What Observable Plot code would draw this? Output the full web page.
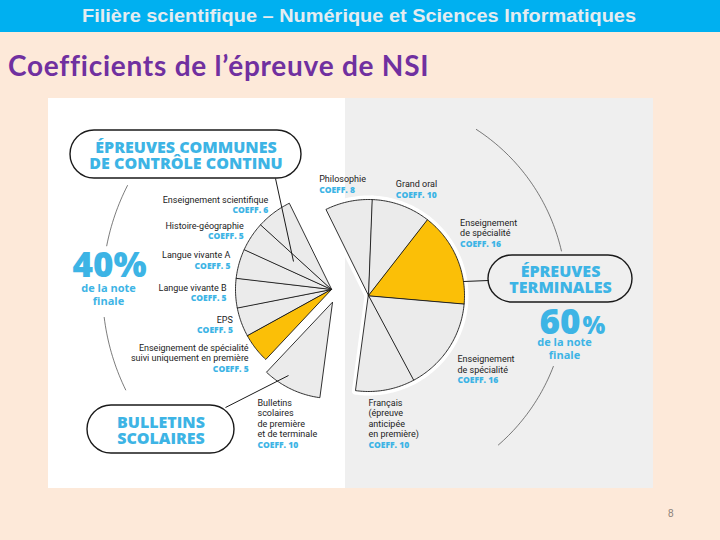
<!DOCTYPE html>
<html>
<head>
<meta charset="utf-8">
<script src="https://cdn.jsdelivr.net/npm/d3@7"></script>
<script src="https://cdn.jsdelivr.net/npm/@observablehq/plot@0.6"></script>
<style>
  html, body { margin: 0; padding: 0; }
  body { width: 720px; height: 540px; background: #FDE9D9; position: relative; overflow: hidden; }
  #header { position: absolute; left: 0; top: 0; width: 720px; height: 32px; background: #00B0F0; overflow: hidden; }
  #htext { position: absolute; left: 0; top: 0; line-height: 32px; white-space: nowrap; transform-origin: 0 0;
    font-family: "Liberation Sans", Arial, sans-serif; font-weight: bold; font-size: 18px; color: #E4ECF0; }
  #title { position: absolute; left: 8px; top: 48px; line-height: 34px; white-space: nowrap;
    font-family: Lato, "Open Sans", sans-serif; font-weight: bold; font-size: 28px; color: #7030A0; }
  #chart { position: absolute; left: 48px; top: 98px; }
  #page { position: absolute; left: 668px; top: 508px; font-family: "Liberation Sans", sans-serif; font-size: 10px; color: #8a8078; }
</style>
</head>
<body>
<div id="header"><span id="htext">Filière scientifique – Numérique et Sciences Informatiques</span></div>
<div id="title"><span id="ttext">Coefficients de l’épreuve de NSI</span></div>
<div id="chart"></div>
<div id="page">8</div>
<script>
// ---------- DATA (clockwise from the top) ----------
const categories = ["Philosophie", "Grand oral", "Enseignement de spécialité", "Enseignement de spécialité",
  "Français (épreuve anticipée en première)", "Bulletins scolaires de première et de terminale",
  "Enseignement de spécialité suivi uniquement en première", "EPS", "Langue vivante B", "Langue vivante A",
  "Histoire-géographie", "Enseignement scientifique"];
const coefficients = [8, 10, 16, 16, 10, 10, 5, 5, 5, 5, 5, 6];
const blocks = ["terminales", "terminales", "terminales", "terminales", "terminales", "bulletins",
  "controle", "controle", "controle", "controle", "controle", "controle"];
const nsiHighlight = [false, false, true, false, false, false, true, false, false, false, false, false];
const labelLines = [["Philosophie"], ["Grand oral"], ["Enseignement", "de spécialité"], ["Enseignement", "de spécialité"],
  ["Français", "(épreuve", "anticipée", "en première)"], ["Bulletins", "scolaires", "de première", "et de terminale"],
  ["Enseignement de spécialité", "suivi uniquement en première"], ["EPS"], ["Langue vivante B"], ["Langue vivante A"],
  ["Histoire-géographie"], ["Enseignement scientifique"]];
const blockTitles = [["ÉPREUVES COMMUNES", "DE CONTRÔLE CONTINU"], ["BULLETINS", "SCOLAIRES"], ["ÉPREUVES", "TERMINALES"]];
const shareLabels = ["40%", "60%"];
const shareSub = ["de la note", "finale"];

// ---------- LAYOUT ----------
const X0 = 48, Y0 = 98, W = 605, H = 390, SPLIT = 345;
const apex = { terminales: [368, 295], bulletins: [332, 302], controle: [331, 289] };
const radius = 96, startDeg = -26.3;
const labelNudge = [[-26, -3.5], [-11, -3], [-11, -25], [-4.5, 5.3], [-20, 0], [-27, 2]];
const pills = [{x1: 70, x2: 301, y1: 130, y2: 178}, {x1: 87, x2: 234, y1: 405, y2: 453}, {x1: 488, x2: 632, y1: 255, y2: 302}];
const connectors = [{x1: 275, y1: 178, x2: 293, y2: 261}, {x1: 225, y1: 407, x2: 288, y2: 375}, {x1: 488, y1: 280, x2: 463, y2: 281}];
const decorArcs = [{c: "controle", r: 229, a0: 244, a1: 263}, {c: "controle", r: 229, a0: 281, a1: 297},
  {c: "terminales", r: 198, a0: 33, a1: 77}, {c: "terminales", r: 198, a0: 111, a1: 139}];
const BLUE = "#3DB4E5", INK = "#1a1a1a";

const rad = d => d * Math.PI / 180;
const polar = (c, r, deg) => [c[0] + r * Math.sin(rad(deg)), c[1] - r * Math.cos(rad(deg))];

const total = d3.sum(coefficients);
let acc = startDeg;
const wedges = categories.map((name, i) => {
  const a0 = acc; acc += coefficients[i] * 360 / total;
  return {i, name, coef: coefficients[i], block: blocks[i], nsi: nsiHighlight[i], a0, a1: acc, mid: (a0 + acc) / 2};
});

function arcPts(id, c, r, a0, a1, withCenter) {
  const pts = withCenter ? [{id, x: c[0], y: c[1]}] : [];
  const n = Math.max(2, Math.ceil(Math.abs(a1 - a0)));
  for (let k = 0; k <= n; k++) {
    const p = polar(c, r, a0 + (a1 - a0) * k / n);
    pts.push({id, x: p[0], y: p[1]});
  }
  return pts;
}
const wedgePts = wedges.flatMap(w => arcPts(w.i, apex[w.block], radius, w.a0, w.a1, true).map(p => ({...p, nsi: w.nsi})));
const decorPts = decorArcs.flatMap((a, k) => arcPts(k, apex[a.c], a.r, a.a0, a.a1, false));

// labels: one multi-line text for the name, one for the coefficient
const LH = 10.5;
const nameRows = [], coefRows = [];
wedges.forEach(w => {
  let x, y, anchor;
  if (w.block === "controle") {
    const p = polar(apex[w.block], 105, w.mid);
    x = p[0]; y = p[1] - 3; anchor = "end";
  } else {
    const p = polar(apex[w.block], 112, w.mid);
    const nd = labelNudge[w.i];
    x = p[0] + nd[0]; y = p[1] + nd[1]; anchor = "start";
  }
  const n = labelLines[w.i].length;
  nameRows.push({x, y: y + (n - 1) * LH, text: labelLines[w.i].join("\n"), anchor});
  coefRows.push({x, y: y + n * LH, text: "COEFF. " + w.coef, anchor});
});

const pillRows = pills.map((p, k) => ({x: (p.x1 + p.x2) / 2, y: (p.y1 + p.y2) / 2 + 14, text: blockTitles[k].join("\n")}));

const textMark = (rows, opts) => Plot.text(rows, {x: "x", y: "y", text: "text", lineAnchor: "bottom", ...opts});
const nameStyle = {fill: "#222", fontSize: 9, fontFamily: "Roboto", lineHeight: LH / 9};
const coefStyle = {fill: BLUE, fontSize: 8.5, fontWeight: 800, fontFamily: "Open Sans"};

const plot = Plot.plot({
  width: W, height: H, margin: 0,
  x: {domain: [X0, X0 + W], range: [0, W], axis: null},
  y: {domain: [Y0, Y0 + H], range: [0, H], axis: null},
  style: {background: `linear-gradient(to right, #ffffff 0px, #ffffff ${SPLIT - X0}px, #EFEFEF ${SPLIT - X0}px)`, overflow: "visible"},
  marks: [
    Plot.line(decorPts, {x: "x", y: "y", z: "id", stroke: "#444", strokeWidth: 0.7}),
    Plot.line(wedgePts, {x: "x", y: "y", z: "id", curve: "linear-closed", fill: "white", stroke: "white", strokeWidth: 8, strokeLinejoin: "round"}),
    Plot.line(wedgePts.filter(d => !d.nsi), {x: "x", y: "y", z: "id", curve: "linear-closed", fill: "#EBEBEB", stroke: INK, strokeWidth: 0.9, strokeLinejoin: "round"}),
    Plot.line(wedgePts.filter(d => d.nsi), {x: "x", y: "y", z: "id", curve: "linear-closed", fill: "#FBBF07", stroke: INK, strokeWidth: 0.9, strokeLinejoin: "round"}),
    Plot.link(connectors, {x1: "x1", y1: "y1", x2: "x2", y2: "y2", stroke: INK, strokeWidth: 1}),
    Plot.rect(pills, {x1: "x1", x2: "x2", y1: "y1", y2: "y2", rx: 24, fill: "none", stroke: INK, strokeWidth: 1.4}),
    textMark(pillRows, {textAnchor: "middle", fill: BLUE, fontSize: 16, fontWeight: 800, fontFamily: "Open Sans", lineHeight: 1}),
    textMark(nameRows.filter(d => d.anchor === "end"), {textAnchor: "end", ...nameStyle}),
    textMark(nameRows.filter(d => d.anchor === "start"), {textAnchor: "start", ...nameStyle}),
    textMark(coefRows.filter(d => d.anchor === "end"), {textAnchor: "end", ...coefStyle}),
    textMark(coefRows.filter(d => d.anchor === "start"), {textAnchor: "start", ...coefStyle}),
    // shares of the final mark
    textMark([{x: 109, y: 276, text: shareLabels[0]}], {textAnchor: "middle", fill: BLUE, fontSize: 35, fontWeight: 800, fontFamily: "Open Sans"}),
    textMark([{x: 580, y: 333, text: shareLabels[1].replace("%", "")}], {textAnchor: "end", fill: BLUE, fontSize: 35, fontWeight: 800, fontFamily: "Open Sans"}),
    textMark([{x: 582, y: 333, text: "%"}], {textAnchor: "start", fill: BLUE, fontSize: 24, fontWeight: 800, fontFamily: "Open Sans"}),
    textMark([{x: 108, y: 304, text: shareSub.join("\n")}], {textAnchor: "middle", fill: BLUE, fontSize: 11, fontWeight: 700, fontFamily: "Open Sans", lineHeight: 12.5 / 11}),
    textMark([{x: 564, y: 358, text: shareSub.join("\n")}], {textAnchor: "middle", fill: BLUE, fontSize: 11, fontWeight: 700, fontFamily: "Open Sans", lineHeight: 12.5 / 11})
  ]
});
document.getElementById("chart").appendChild(plot);

// header: condensed bold text spanning x 82..636 as in the reference
(function () {
  const el = document.getElementById("htext");
  const w = el.getBoundingClientRect().width;
  const s = 554 / w;
  el.style.transform = `translateX(82px) scaleX(${s})`;
})();
// title: spans x 8..428
(function () {
  const el = document.getElementById("ttext");
  const w = el.getBoundingClientRect().width;
  el.style.letterSpacing = ((420 - w) / el.textContent.length) + "px";
})();
</script>
</body>
</html>
